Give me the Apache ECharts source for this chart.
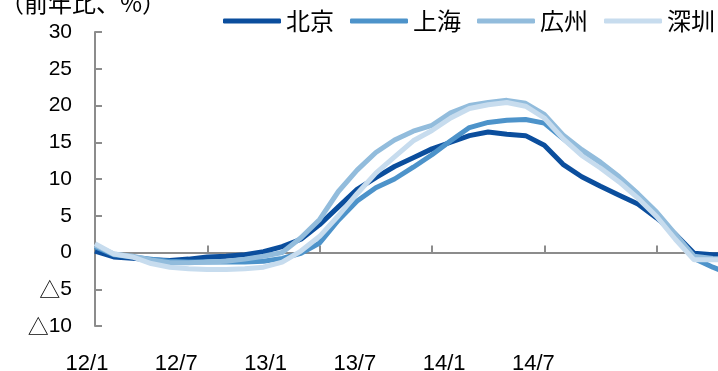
<!DOCTYPE html>
<html>
<head>
<meta charset="utf-8">
<script src="https://cdn.jsdelivr.net/npm/echarts@6/dist/echarts.min.js"></script>
<style>
  html, body { margin: 0; padding: 0; background: #fff; }
  #chart { width: 718px; height: 371px; }
</style>
</head>
<body>
<div id="chart"></div>
<script>
// Monthly categories, 2012/1 .. 2014/11
const months = [
  '12/1','12/2','12/3','12/4','12/5','12/6','12/7','12/8','12/9','12/10','12/11','12/12',
  '13/1','13/2','13/3','13/4','13/5','13/6','13/7','13/8','13/9','13/10','13/11','13/12',
  '14/1','14/2','14/3','14/4','14/5','14/6','14/7','14/8','14/9','14/10','14/11'
];

// Year-on-year change, %
const beijing = [0.2,-0.6,-0.8,-1.0,-1.1,-0.9,-0.6,-0.5,-0.3,0.1,0.8,1.8,3.8,6.2,8.6,10.2,11.7,12.9,14.1,15.0,15.9,16.4,16.1,15.9,14.6,12.0,10.3,9.0,7.8,6.6,4.7,2.5,-0.1,-0.3,-0.3];
const shanghai = [0.8,-0.3,-0.6,-0.9,-1.2,-1.3,-1.3,-1.3,-1.3,-1.2,-0.8,-0.1,1.3,4.4,7.0,8.8,10.0,11.6,13.3,15.2,17.0,17.7,18.0,18.1,17.6,15.5,13.5,11.8,9.8,7.6,5.2,2.3,-0.8,-2.0,-3.0];
const guangzhou = [1.0,-0.2,-0.5,-1.0,-1.4,-1.4,-1.3,-1.2,-0.9,-0.5,0.0,2.0,4.5,8.3,11.2,13.6,15.3,16.5,17.3,19.0,20.0,20.4,20.7,20.3,18.8,16.0,14.0,12.3,10.3,8.0,5.5,2.5,-0.5,-0.8,-1.0];
const shenzhen = [1.2,-0.2,-0.6,-1.5,-2.0,-2.2,-2.3,-2.3,-2.2,-2.0,-1.3,0.2,2.2,5.0,8.0,10.8,13.0,15.2,16.6,18.3,19.6,20.1,20.4,19.9,18.3,15.5,13.2,11.5,9.6,7.4,4.9,1.8,-1.0,-1.0,-1.0];

// Bottom tick labels
const xTickLabels = ['12/1','12/7','13/1','13/7','14/1','14/7'];

const seriesNames = ['北京','上海','広州','深圳'];
const seriesData = [beijing, shanghai, guangzhou, shenzhen];
const seriesColors = ['#0b4e9d','#4d93ca','#92bcdc','#c7dcee'];

const axisGray = '#8c8c8c';

const chart = echarts.init(document.getElementById('chart'), null, { renderer: 'canvas' });

chart.setOption({
  animation: false,
  backgroundColor: '#fff',
  title: {
    text: '（前年比、%）',
    left: -5,
    top: -14,
    textStyle: { fontFamily: 'Noto Sans CJK JP', fontSize: 24, fontWeight: 'normal', color: '#000' }
  },
  legend: {
    data: seriesNames,
    left: 223,
    top: 9,
    width: 520,
    padding: 0,
    icon: 'roundRect',
    itemWidth: 58,
    itemHeight: 5,
    itemGap: 16,
    textStyle: { fontFamily: 'Noto Sans CJK JP', fontSize: 24, color: '#000' }
  },
  // plot area runs past the right edge of the page
  grid: { left: 95, top: 32, width: 636.5, height: 294, containLabel: false, outerBoundsMode: 'none' },
  xAxis: [
    {
      type: 'category',
      data: months,
      boundaryGap: false,
      axisLine: { show: true, onZero: true, lineStyle: { color: axisGray, width: 2 } },
      axisTick: { show: true, inside: true, interval: 5, length: 7, lineStyle: { color: axisGray, width: 2 } },
      axisLabel: { show: false },
      splitLine: { show: false }
    },
    {
      type: 'value',
      position: 'bottom',
      min: 0,
      max: 7.13,
      interval: 1,
      axisLine: { show: false, onZero: false },
      axisTick: { show: false },
      splitLine: { show: false },
      axisLabel: {
        margin: 27,
        padding: [0, 16, 0, 0],
        fontFamily: 'Liberation Sans',
        fontSize: 22,
        color: '#000',
        showMaxLabel: false,
        formatter: function (v) {
          return Number.isInteger(v) && xTickLabels[v] !== undefined ? xTickLabels[v] : '';
        }
      }
    }
  ],
  yAxis: {
    type: 'value',
    min: -10,
    max: 30,
    interval: 5,
    axisLine: { show: true, onZero: false, lineStyle: { color: axisGray, width: 2 } },
    axisTick: { show: true, inside: true, length: 7, lineStyle: { color: axisGray, width: 2 } },
    splitLine: { show: false },
    axisLabel: {
      margin: 23,
      fontFamily: 'Liberation Sans',
      fontSize: 21,
      color: '#000',
      formatter: function (v) { return v < 0 ? '{t|△}' + Math.abs(v) : String(v); },
      rich: {
        t: { fontFamily: 'Noto Sans CJK JP', fontSize: 21, color: '#000' }
      }
    }
  },
  series: seriesNames.map(function (name, i) {
    return {
      name: name,
      type: 'line',
      xAxisIndex: 0,
      data: seriesData[i],
      symbol: 'none',
      smooth: false,
      color: seriesColors[i],
      lineStyle: { width: 5, color: seriesColors[i] },
      z: 2 + i
    };
  })
});
</script>
</body>
</html>
